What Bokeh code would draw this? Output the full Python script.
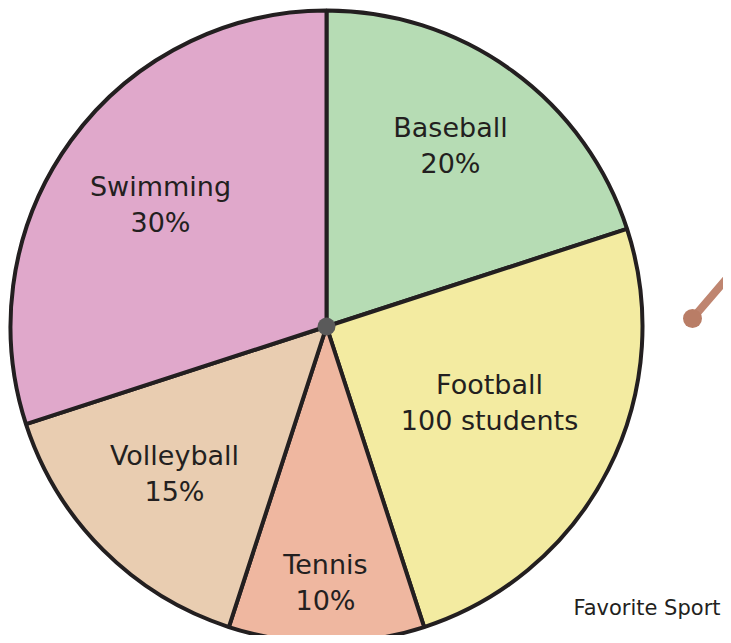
import math
from bokeh.plotting import figure
from bokeh.embed import file_html
from bokeh.resources import INLINE
from bokeh.core.properties import value

# data
sports = ["Baseball", "Football", "Tennis", "Volleyball", "Swimming"]
percents = [20, 25, 10, 15, 30]
second_lines = ["20%", "100 students", "10%", "15%", "30%"]
colors = ["#b6dcb4", "#f3eba1", "#efb7a0", "#e9cdb1", "#e0a8cb"]
title_text = "Favorite Sport"

# layout (screen-pixel-like coordinates, y negative downward)
W, H = 723, 635
cx, cy, R = 326, -326, 316
label_pos = [(450, -145), (489, -402), (325, -582), (174, -473), (160, -204)]
line_gap = 36

p = figure(width=W, height=H, x_range=(0, W), y_range=(-H, 0),
           output_backend="svg", toolbar_location=None, min_border=0)
p.axis.visible = False
p.grid.visible = False
p.outline_line_color = None
p.background_fill_color = "white"

cum = 0
starts, ends = [], []
for v in percents:
    starts.append(math.radians(90 - cum * 3.6))
    cum += v
    ends.append(math.radians(90 - cum * 3.6))

p.wedge(x=[cx] * len(sports), y=[cy] * len(sports), radius=R,
        start_angle=starts, end_angle=ends, direction="clock",
        fill_color=colors, line_color="#231f20", line_width=4)

p.scatter(x=[cx], y=[cy], size=18, fill_color="#5a5a5a", line_color=None)

font = value("DejaVu Sans")
for (lx, ly), s, t in zip(label_pos, sports, second_lines):
    p.text(x=[lx], y=[ly + line_gap / 2], text=[s], text_align="center",
           text_baseline="middle", text_font=font, text_font_size="27px",
           text_color="#231f20")
    p.text(x=[lx], y=[ly - line_gap / 2], text=[t], text_align="center",
           text_baseline="middle", text_font=font, text_font_size="27px",
           text_color="#231f20")

# pointer fragment
p.line(x=[692, 745], y=[-318, -256], line_color="#bf8570", line_width=8,
       line_cap="round")
p.scatter(x=[692], y=[-318], size=19, fill_color="#b97d66", line_color=None)

p.text(x=[720], y=[-607], text=[title_text], text_align="right",
       text_baseline="middle", text_font=font, text_font_size="21px",
       text_color="#231f20")

open("out.html", "w").write(file_html(p, INLINE))
